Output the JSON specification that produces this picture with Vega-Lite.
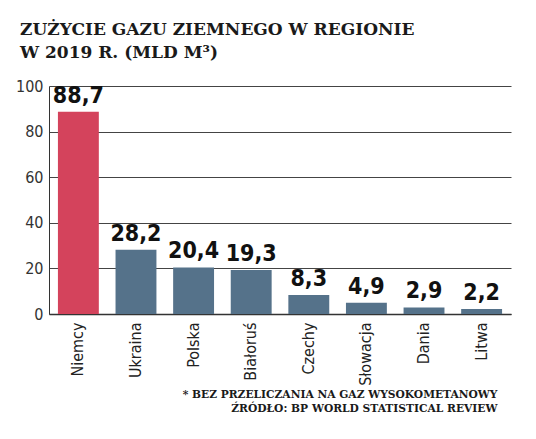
{
  "$schema": "https://vega.github.io/schema/vega-lite/v6.json",
  "width": 462,
  "height": 228,
  "autosize": "none",
  "padding": {"left": 49, "top": 86, "right": 25, "bottom": 125},
  "background": "white",
  "title": {
    "text": ["ZUŻYCIE GAZU ZIEMNEGO W REGIONIE", "W 2019 R. (MLD M³)"],
    "anchor": "start",
    "frame": "group",
    "font": "DejaVu Serif",
    "fontWeight": "bold",
    "fontSize": 17,
    "lineHeight": 23,
    "color": "#1a1a1a",
    "dx": -29,
    "offset": 16
  },
  "config": {
    "locale": {
      "number": {"decimal": ",", "thousands": " ", "grouping": [3], "currency": ["", " zł"]}
    },
    "view": {"stroke": null}
  },
  "data": {
    "values": [
      {"kraj": "Niemcy", "zuzycie": 88.7},
      {"kraj": "Ukraina", "zuzycie": 28.2},
      {"kraj": "Polska", "zuzycie": 20.4},
      {"kraj": "Białoruś", "zuzycie": 19.3},
      {"kraj": "Czechy", "zuzycie": 8.3},
      {"kraj": "Słowacja", "zuzycie": 4.9},
      {"kraj": "Dania", "zuzycie": 2.9},
      {"kraj": "Litwa", "zuzycie": 2.2}
    ]
  },
  "encoding": {
    "x": {
      "field": "kraj",
      "type": "nominal",
      "sort": null,
      "scale": {"paddingInner": 0.29, "paddingOuter": 0.155},
      "title": ["* BEZ PRZELICZANIA NA GAZ WYSOKOMETANOWY", "ŹRÓDŁO: BP WORLD STATISTICAL REVIEW"],
      "axis": {
        "labelAngle": -90,
        "labelAlign": "right",
        "labelBaseline": "middle",
        "labelFont": "Liberation Sans Narrow, DejaVu Sans Condensed, sans-serif",
        "labelFontSize": 16,
        "labelColor": "#222222",
        "labelPadding": 8,
        "ticks": false,
        "domainColor": "#333333",
        "domainWidth": 1.5,
        "titleFont": "DejaVu Serif",
        "titleFontWeight": "bold",
        "titleFontSize": 10.7,
        "titleColor": "#1a1a1a",
        "titleAnchor": "end",
        "titleAlign": "right",
        "titleBaseline": "top",
        "titleLineHeight": 14,
        "titleX": 448,
        "titleY": 75
      }
    },
    "y": {
      "field": "zuzycie",
      "type": "quantitative",
      "scale": {"domain": [0, 100]},
      "title": null,
      "axis": {
        "values": [0, 20, 40, 60, 80, 100],
        "ticks": false,
        "grid": true,
        "gridColor": "#444444",
        "gridWidth": 1,
        "domainColor": "#333333",
        "domainWidth": 1,
        "labelFont": "Liberation Sans Narrow, DejaVu Sans Condensed, sans-serif",
        "labelFontSize": 16,
        "labelColor": "#333333",
        "labelPadding": 6
      }
    }
  },
  "layer": [
    {
      "mark": {"type": "bar"},
      "encoding": {
        "color": {
          "condition": {"test": "datum.kraj === 'Niemcy'", "value": "#d4435c"},
          "value": "#55728a"
        }
      }
    },
    {
      "mark": {
        "type": "text",
        "baseline": "bottom",
        "dy": -4,
        "font": "Liberation Sans Narrow, DejaVu Sans Condensed, sans-serif",
        "fontWeight": "bold",
        "fontSize": 23,
        "color": "#111111"
      },
      "encoding": {
        "text": {"field": "zuzycie", "type": "quantitative", "format": ".1f"}
      }
    }
  ]
}
